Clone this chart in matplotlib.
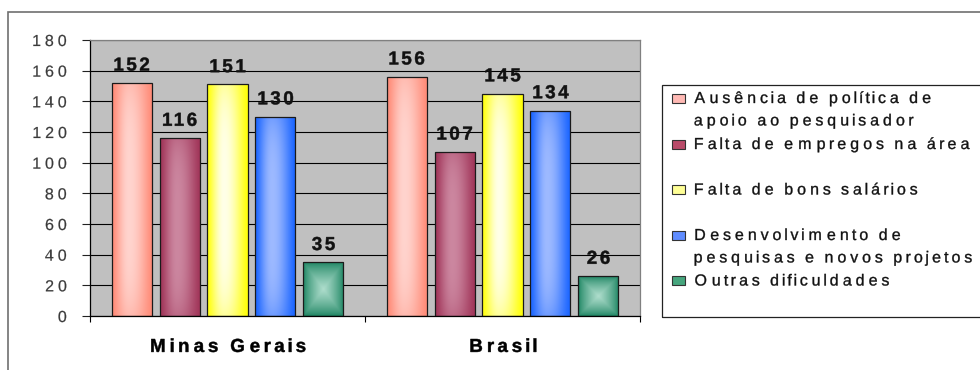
import numpy as np
import matplotlib
matplotlib.use("Agg")
import matplotlib.pyplot as plt
from matplotlib.patches import Rectangle
from matplotlib.patheffects import AbstractPathEffect
from matplotlib.path import Path

# ---------------- data ----------------
categories = ["Minas Gerais", "Brasil"]
series_labels = [
    "Ausência de política de\napoio ao pesquisador",
    "Falta de empregos na área",
    "Falta de bons salários",
    "Desenvolvimento de\npesquisas e novos projetos",
    "Outras dificuldades",
]
minas_gerais = [152, 116, 151, 130, 35]
brasil = [156, 107, 145, 134, 26]
y_ticks = [0, 20, 40, 60, 80, 100, 120, 140, 160, 180]

# ---------------- style ----------------
edge_rgb = [(255, 138, 118), (160, 52, 88), (255, 255, 10), (25, 100, 255), (25, 130, 95)]
center_rgb = [(255, 212, 206), (204, 135, 160), (255, 255, 232), (158, 186, 255), (175, 222, 205)]
marker_rgb = [(255, 185, 180), (185, 75, 105), (255, 255, 150), (95, 140, 255), (70, 165, 125)]
kinds = ["band", "band", "band", "band", "square"]

plt.rcParams["font.family"] = ["Liberation Sans", "DejaVu Sans"]


class Track(AbstractPathEffect):
    """Spread glyphs apart (letter spacing) without distorting them; optional slight embolden."""

    def __init__(self, s, anchor="left", bold=0.0):
        super().__init__()
        self.s = s
        self.anchor = anchor
        self.bold = bold

    def draw_path(self, renderer, gc, tpath, affine, rgbFace=None):
        codes = tpath.codes
        v = np.array(tpath.vertices, dtype=float)
        if codes is None or len(v) == 0:
            renderer.draw_path(gc, tpath, affine, rgbFace)
            return
        codes = np.asarray(codes)
        valid = codes != Path.CLOSEPOLY
        xs = v[valid, 0]
        xmin, xmax = xs.min(), xs.max()
        ref = {"left": xmin, "center": 0.5 * (xmin + xmax), "right": xmax}[self.anchor]
        starts = np.flatnonzero(codes == Path.MOVETO)
        ends = list(starts[1:]) + [len(v)]
        for a, b in zip(starts, ends):
            m = valid[a:b]
            seg = v[a:b, 0][m]
            if len(seg) == 0:
                continue
            cx = 0.5 * (seg.min() + seg.max())
            v[a:b, 0] += (cx - ref) * (self.s - 1)
        gc0 = renderer.new_gc()
        gc0.copy_properties(gc)
        if self.bold > 0 and rgbFace is not None:
            gc0.set_linewidth(self.bold)
            gc0.set_foreground(rgbFace)
            gc0.set_joinstyle("round")
        renderer.draw_path(gc0, Path(v, codes), affine, rgbFace)
        gc0.restore()


def shade(edge, center, kind, W=64, H=256):
    edge = np.array(edge, float)
    center = np.array(center, float)
    t = np.linspace(0, 1, W)[None, :]
    u = np.linspace(0, 1, H)[:, None]
    if kind == "square":
        d = np.maximum(np.abs(2 * t - 1), np.abs(2 * u - 1))
        w = np.clip(1 - d, 0, 1) ** 0.75
    else:
        c = 0.42
        d = np.where(t < c, (c - t) / c, (t - c) / (1 - c))
        w = np.cos(d * np.pi / 2) ** 1.3 * (1 - 0.35 * np.abs(2 * u - 1) ** 4)
    img = edge + (center - edge) * w[..., None]
    return np.clip(img / 255.0, 0, 1)


W_PX, H_PX = 980, 370
fig = plt.figure(figsize=(W_PX / 100, H_PX / 100), dpi=100)


def fx(px):
    return px / W_PX


def fy(py):
    return 1 - py / H_PX


# outer border (only top/left visible)
fig.patches.append(Rectangle((fx(8), fy(400)), fx(1100) - fx(8), fy(12) - fy(400),
                             transform=fig.transFigure, fill=False,
                             edgecolor="#707070", lw=1.2, clip_on=False))

ax = fig.add_axes([fx(90), fy(316), fx(640) - fx(90), fy(40) - fy(316)])
ax.set_facecolor("#c0c0c0")

x = np.arange(len(categories))
n = len(series_labels)
step = 0.1745
width = 0.1455
for i in range(n):
    heights = [minas_gerais[i], brasil[i]]
    bars = ax.bar(x + (i - (n - 1) / 2) * step, heights, width,
                  facecolor="none", edgecolor="#1a1a1a", lw=0.9, zorder=3)
    img = shade(edge_rgb[i], center_rgb[i], kinds[i])
    for rect in bars:
        x0, y0 = rect.get_x(), rect.get_y()
        im = ax.imshow(img, extent=[x0, x0 + rect.get_width(), y0, y0 + rect.get_height()],
                       aspect="auto", zorder=2.5, interpolation="bilinear")
        im.set_clip_path(rect)
    ax.bar_label(bars, padding=6, fontsize=13.5, fontweight="bold", color="#111111",
                 path_effects=[Track(1.25, "center", bold=0.35)])

ax.set_xlim(-0.5, 1.5)
ax.set_ylim(0, 180)
ax.set_axisbelow(True)
ax.yaxis.grid(True, color="black", lw=0.8)

ax.set_yticks(y_ticks)
ax.set_yticklabels([str(t) for t in y_ticks])
ax.tick_params(axis="y", direction="out", length=5.5, width=0.8, color="#222222",
               labelsize=11.5, labelcolor="#3a3a3a", pad=10)

ax.set_xticks(x)
ax.set_xticklabels(categories)
ax.set_xticks([-0.5, 0.5, 1.5], minor=True)
ax.tick_params(axis="x", which="major", length=0, pad=16.5, labelsize=13.5)
ax.tick_params(axis="x", which="minor", direction="out", length=4.5, width=0.8, color="black")
for lab in ax.get_xticklabels():
    lab.set_fontweight("bold")
    lab.set_path_effects([Track(1.38, "center", bold=0.35)])
for lab in ax.get_yticklabels():
    lab.set_path_effects([Track(1.45, "right", bold=0.15)])

for side in ["left", "bottom"]:
    ax.spines[side].set_color("black")
    ax.spines[side].set_linewidth(0.9)
for side in ["top", "right"]:
    ax.spines[side].set_color("#808080")
    ax.spines[side].set_linewidth(0.9)

# legend (manual, Excel-like)
fig.patches.append(Rectangle((fx(662), fy(317)), fx(1100) - fx(662), fy(85) - fy(317),
                             transform=fig.transFigure, fill=False,
                             edgecolor="#222222", lw=0.9, clip_on=False))
slot_y = [97, 143, 188.5, 234, 279.5]
for i, lab in enumerate(series_labels):
    yc = slot_y[i]
    fig.patches.append(Rectangle((fx(672), fy(yc + 5.5)), fx(685) - fx(672), fy(yc - 3.5) - fy(yc + 5.5),
                                 transform=fig.transFigure,
                                 facecolor=np.array(marker_rgb[i]) / 255, edgecolor="#333333",
                                 lw=0.8))
    fig.text(fx(692), fy(yc - 6), lab, ha="left", va="top", fontsize=11.5,
             linespacing=1.62, color="#111111",
             path_effects=[Track(1.46, "left", bold=0.25)])

fig.savefig("out.png", dpi=100)
